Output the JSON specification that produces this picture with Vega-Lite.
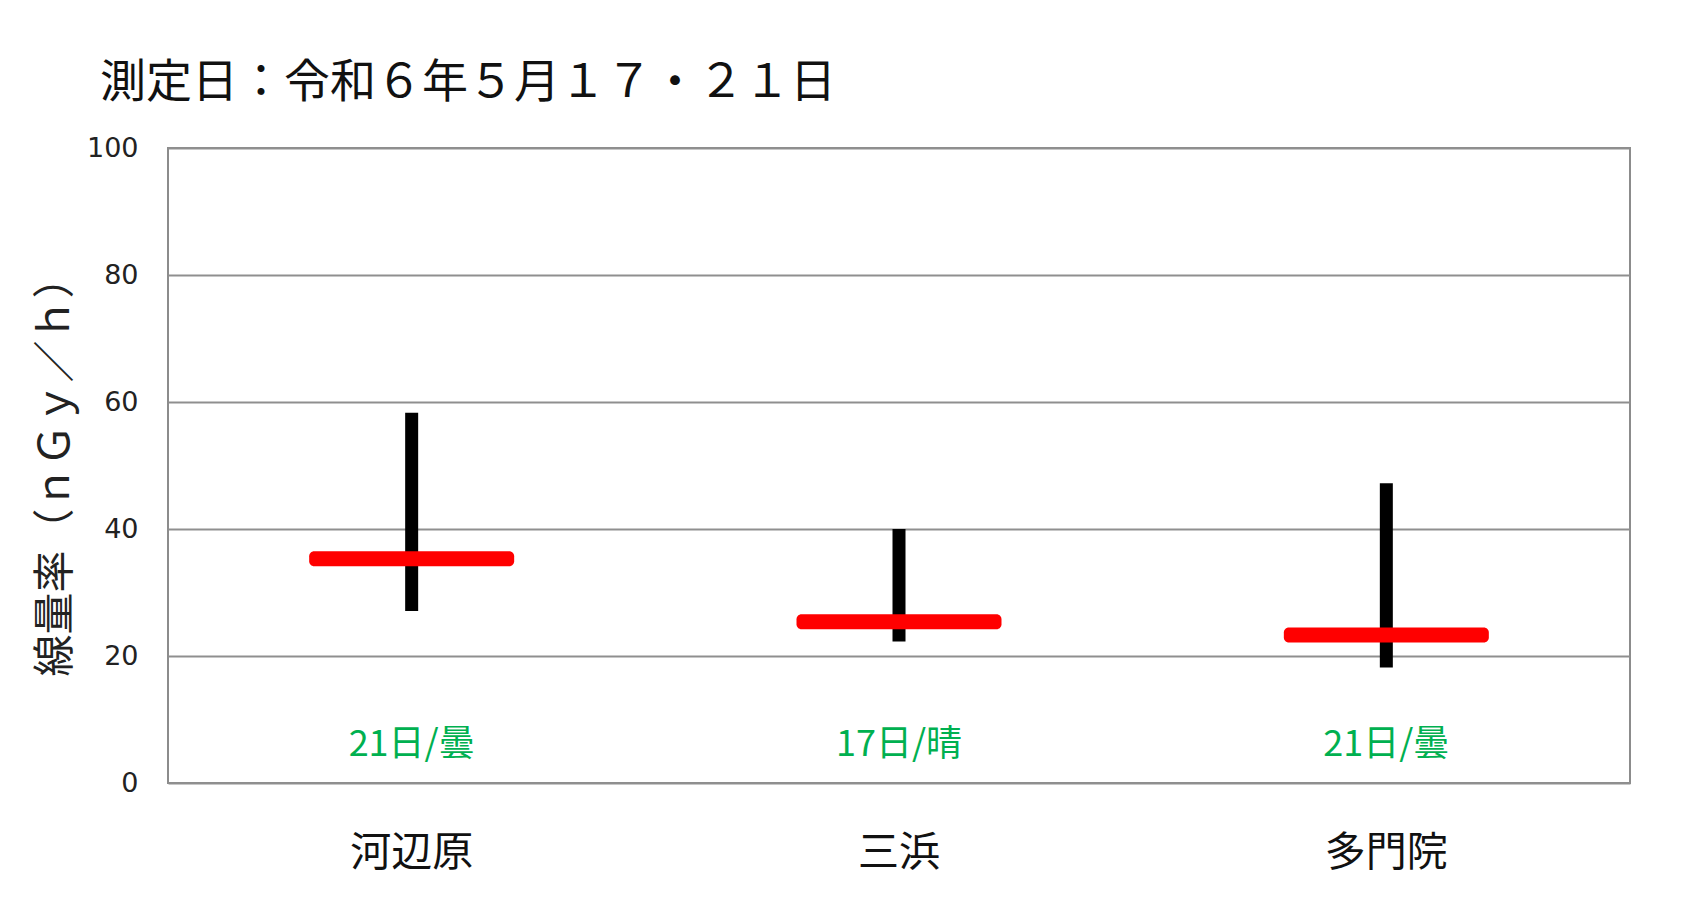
{
  "$schema": "https://vega.github.io/schema/vega-lite/v6.json",
  "width": 1462,
  "height": 635,
  "autosize": {"type": "none"},
  "padding": {"left": 168, "top": 148, "right": 66, "bottom": 117},
  "background": "white",
  "title": {
    "text": "測定日：令和６年５月１７・２１日",
    "anchor": "start",
    "frame": "group",
    "dx": -68,
    "offset": 27,
    "font": "Noto Sans CJK JP",
    "fontSize": 46,
    "fontWeight": "normal",
    "color": "#111111"
  },
  "data": {
    "values": [
      {"site": "河辺原", "min": 27.1, "max": 58.3, "mean": 35.3, "label": "21日/曇"},
      {"site": "三浜", "min": 22.3, "max": 40.0, "mean": 25.4, "label": "17日/晴"},
      {"site": "多門院", "min": 18.2, "max": 47.2, "mean": 23.3, "label": "21日/曇"}
    ]
  },
  "encoding": {
    "x": {
      "field": "site",
      "type": "nominal",
      "sort": null,
      "scale": {"paddingInner": 0, "paddingOuter": 0},
      "axis": {
        "title": null,
        "labelAngle": 0,
        "labelFont": "Noto Sans CJK JP",
        "labelFontSize": 41,
        "labelColor": "#111111",
        "labelPadding": 50,
        "ticks": false,
        "domain": false,
        "grid": false
      }
    }
  },
  "layer": [
    {
      "mark": {"type": "bar", "color": "black", "size": 13},
      "encoding": {
        "y": {
          "field": "min",
          "type": "quantitative",
          "scale": {"domain": [0, 100], "nice": false},
          "axis": {
            "title": "線量率（ｎＧｙ／ｈ）",
            "titleFont": "Noto Sans CJK JP",
            "titleFontSize": 42,
            "titleFontWeight": "normal",
            "titleColor": "#222222",
            "titleX": -113,
            "titleY": 318,
            "titleAlign": "center",
            "titleBaseline": "middle",
            "titleAngle": -90,
            "values": [0, 20, 40, 60, 80, 100],
            "labelFont": "DejaVu Sans",
            "labelFontSize": 27,
            "labelColor": "#222222",
            "labelPadding": 30,
            "ticks": false,
            "domain": false,
            "grid": true,
            "gridColor": "#8f8f8f",
            "gridWidth": 2
          }
        },
        "y2": {"field": "max"}
      }
    },
    {
      "mark": {"type": "tick", "color": "#ff0000", "thickness": 15, "size": 205, "cornerRadius": 5, "opacity": 1},
      "encoding": {
        "y": {"field": "mean", "type": "quantitative"}
      }
    },
    {
      "mark": {"type": "text", "color": "#00b050", "font": "Noto Sans CJK JP", "fontSize": 36, "baseline": "middle", "align": "center", "dy": 0},
      "encoding": {
        "y": {"datum": 6.0, "type": "quantitative"},
        "text": {"field": "label"}
      }
    }
  ],
  "config": {
    "view": {"stroke": "#8c8c8c", "strokeWidth": 2}
  }
}
